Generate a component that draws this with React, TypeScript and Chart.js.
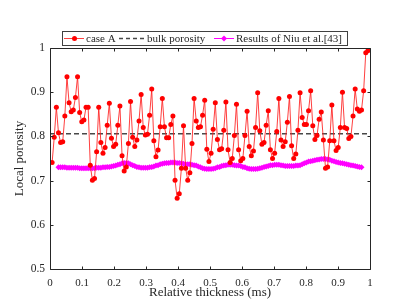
import React, { useEffect, useRef } from "react";
import { Chart, registerables } from "chart.js";

Chart.register(...registerables);

// thickness step between layers (relative thickness)
const LAYER_STEP = 1 / 151;

// case A local porosity, layers 1..150
const caseA = [
  0.741, 0.798, 0.866, 0.808, 0.786, 0.788, 0.846, 0.935, 0.876, 0.856,
  0.860, 0.888, 0.935, 0.854, 0.833, 0.837, 0.866, 0.866, 0.735, 0.701,
  0.705, 0.765, 0.866, 0.786, 0.762, 0.775, 0.825, 0.875, 0.796, 0.777,
  0.782, 0.825, 0.869, 0.756, 0.722, 0.731, 0.784, 0.879, 0.798, 0.777,
  0.792, 0.835, 0.895, 0.820, 0.803, 0.805, 0.848, 0.907, 0.790, 0.754,
  0.769, 0.822, 0.886, 0.822, 0.797, 0.797, 0.827, 0.846, 0.701, 0.660,
  0.670, 0.728, 0.824, 0.728, 0.701, 0.718, 0.784, 0.886, 0.835, 0.820,
  0.822, 0.848, 0.882, 0.771, 0.743, 0.762, 0.816, 0.876, 0.793, 0.770,
  0.772, 0.814, 0.878, 0.770, 0.741, 0.750, 0.802, 0.873, 0.770, 0.745,
  0.750, 0.802, 0.857, 0.777, 0.756, 0.767, 0.820, 0.899, 0.813, 0.782,
  0.786, 0.825, 0.858, 0.770, 0.750, 0.762, 0.811, 0.886, 0.792, 0.777,
  0.788, 0.832, 0.890, 0.779, 0.750, 0.760, 0.814, 0.899, 0.843, 0.827,
  0.827, 0.858, 0.903, 0.824, 0.793, 0.802, 0.839, 0.855, 0.792, 0.728,
  0.731, 0.790, 0.871, 0.790, 0.768, 0.775, 0.820, 0.900, 0.820, 0.818,
  0.795, 0.800, 0.846, 0.907, 0.862, 0.857, 0.860, 0.903, 0.989, 0.994,
];
const caseAFirstLayer = 1;

// Results of Niu et al. [43], layers 4..147
const niu = [
  0.730, 0.730, 0.730, 0.730, 0.729, 0.729, 0.729, 0.729, 0.729, 0.729,
  0.728, 0.728, 0.728, 0.728, 0.728, 0.728, 0.728, 0.728, 0.729, 0.729,
  0.729, 0.730, 0.730, 0.731, 0.731, 0.732, 0.733, 0.734, 0.736, 0.737,
  0.739, 0.740, 0.740, 0.739, 0.737, 0.735, 0.733, 0.731, 0.730, 0.729,
  0.729, 0.729, 0.729, 0.730, 0.731, 0.732, 0.734, 0.735, 0.737, 0.738,
  0.739, 0.740, 0.740, 0.741, 0.741, 0.741, 0.740, 0.740, 0.739, 0.738,
  0.737, 0.737, 0.737, 0.736, 0.735, 0.734, 0.732, 0.730, 0.728, 0.727,
  0.726, 0.726, 0.726, 0.727, 0.728, 0.730, 0.731, 0.733, 0.734, 0.735,
  0.736, 0.736, 0.736, 0.735, 0.734, 0.734, 0.733, 0.731, 0.730, 0.728,
  0.727, 0.726, 0.726, 0.726, 0.727, 0.728, 0.729, 0.731, 0.732, 0.733,
  0.735, 0.735, 0.736, 0.736, 0.736, 0.735, 0.734, 0.733, 0.733, 0.733,
  0.733, 0.733, 0.734, 0.734, 0.735, 0.737, 0.739, 0.741, 0.743, 0.744,
  0.745, 0.746, 0.747, 0.748, 0.749, 0.749, 0.749, 0.748, 0.747, 0.745,
  0.744, 0.742, 0.741, 0.740, 0.739, 0.738, 0.737, 0.736, 0.735, 0.734,
  0.733, 0.732, 0.731, 0.730,
];
const niuFirstLayer = 4;

const bulkPorosity = 0.806;
const bulkRange = [0, 1];

const xTicks = [0, 0.1, 0.2, 0.3, 0.4, 0.5, 0.6, 0.7, 0.8, 0.9, 1];
const yTicks = [0.5, 0.6, 0.7, 0.8, 0.9, 1];
const xTickLabels = ["0", "0.1", "0.2", "0.3", "0.4", "0.5", "0.6", "0.7", "0.8", "0.9", "1"];
const yTickLabels = ["0.5", "0.6", "0.7", "0.8", "0.9", "1"];

const seriesNames = ["case A", "bulk porosity", "Results of Niu et al.[43]"];
const xTitle = "Relative thickness (ms)";
const yTitle = "Local porosity";

const FONT = "'Liberation Serif', 'Times New Roman', serif";
const TEXT = "#262626";
const RED = "#ff0000";
const RED_LINE = "rgba(255,30,30,0.85)";
const MAGENTA = "#ff00ff";
const DASH = "#484848";

const framePlugin = {
  id: "frameAndLegend",
  afterDraw(chart: any) {
    const { ctx, chartArea, scales } = chart;
    const { left, right, top, bottom } = chartArea;
    const L = Math.round(left) + 0.5;
    const R = Math.round(right) + 0.5;
    const T = Math.round(top) + 0.5;
    const B = Math.round(bottom) + 0.5;
    ctx.save();
    ctx.strokeStyle = TEXT;
    ctx.lineWidth = 1;
    ctx.setLineDash([]);
    ctx.beginPath();
    ctx.moveTo(L, T); ctx.lineTo(R, T); ctx.lineTo(R, B); ctx.lineTo(L, B); ctx.closePath();
    ctx.stroke();
    // inward ticks
    ctx.beginPath();
    xTicks.forEach((v) => {
      const px = Math.round(scales.x.getPixelForValue(v)) + 0.5;
      ctx.moveTo(px, B); ctx.lineTo(px, B - 3);
      ctx.moveTo(px, T); ctx.lineTo(px, T + 3);
    });
    yTicks.forEach((v) => {
      const py = Math.round(scales.y.getPixelForValue(v)) + 0.5;
      ctx.moveTo(L, py); ctx.lineTo(L + 3, py);
      ctx.moveTo(R, py); ctx.lineTo(R - 3, py);
    });
    ctx.stroke();

    // legend box
    const bx = 62.5, by = 31.5, bw = 285, bh = 14;
    const cy = by + bh / 2;
    ctx.fillStyle = "#ffffff";
    ctx.fillRect(bx, by, bw, bh);
    ctx.strokeStyle = "#404040";
    ctx.strokeRect(bx, by, bw, bh);
    ctx.font = `11px ${FONT}`;
    ctx.textBaseline = "middle";
    ctx.textAlign = "left";
    // case A
    ctx.strokeStyle = RED_LINE;
    ctx.beginPath(); ctx.moveTo(64, cy); ctx.lineTo(84, cy); ctx.stroke();
    ctx.fillStyle = RED;
    ctx.beginPath(); ctx.arc(74.5, cy, 2.5, 0, Math.PI * 2); ctx.fill();
    ctx.fillStyle = TEXT;
    ctx.fillText(seriesNames[0], 86, cy + 0.5);
    // bulk porosity
    ctx.strokeStyle = DASH;
    ctx.lineWidth = 1.3;
    ctx.setLineDash([4, 3]);
    ctx.beginPath(); ctx.moveTo(119, cy); ctx.lineTo(144, cy); ctx.stroke();
    ctx.setLineDash([]);
    ctx.lineWidth = 1;
    ctx.fillStyle = TEXT;
    ctx.fillText(seriesNames[1], 147, cy + 0.5);
    // Niu
    ctx.strokeStyle = MAGENTA;
    ctx.beginPath(); ctx.moveTo(214, cy); ctx.lineTo(234, cy); ctx.stroke();
    ctx.fillStyle = MAGENTA;
    ctx.beginPath();
    ctx.moveTo(224, cy - 3); ctx.lineTo(227, cy); ctx.lineTo(224, cy + 3); ctx.lineTo(221, cy); ctx.closePath();
    ctx.fill();
    ctx.fillStyle = TEXT;
    ctx.fillText(seriesNames[2], 236, cy + 0.5);
    ctx.restore();
  },
};

export default function App() {
  const canvasRef = useRef<HTMLCanvasElement | null>(null);

  useEffect(() => {
    if (!canvasRef.current) return;
    const caseAData = caseA.map((v, i) => ({ x: (caseAFirstLayer + i) * LAYER_STEP, y: v }));
    const niuData = niu.map((v, i) => ({ x: (niuFirstLayer + i) * LAYER_STEP, y: v }));
    const bulkData = bulkRange.map((x) => ({ x, y: bulkPorosity }));

    const chart = new Chart(canvasRef.current, {
      type: "line",
      data: {
        datasets: [
          {
            label: seriesNames[0],
            data: caseAData,
            borderColor: RED_LINE,
            borderWidth: 1,
            pointRadius: 2.5,
            pointBackgroundColor: RED,
            pointBorderColor: RED,
            pointBorderWidth: 0,
            tension: 0,
          },
          {
            label: seriesNames[1],
            data: bulkData,
            borderColor: DASH,
            borderWidth: 1.5,
            borderDash: [5, 3],
            pointRadius: 0,
          },
          {
            label: seriesNames[2],
            data: niuData,
            borderColor: MAGENTA,
            borderWidth: 1,
            pointStyle: "rectRot",
            pointRadius: 3,
            pointBackgroundColor: MAGENTA,
            pointBorderColor: MAGENTA,
            pointBorderWidth: 0,
          },
        ],
      },
      options: {
        animation: false,
        responsive: false,
        maintainAspectRatio: false,
        events: [],
        layout: { padding: { top: 48, right: 37, left: 0, bottom: 0 } },
        plugins: { legend: { display: false }, tooltip: { enabled: false } },
        scales: {
          x: {
            type: "linear",
            min: 0,
            max: 1,
            afterFit: (s: any) => { s.height = 38; },
            afterBuildTicks: (s: any) => { s.ticks = xTicks.map((v) => ({ value: v })); },
            ticks: {
              padding: 8,
              autoSkip: false,
              maxRotation: 0,
              color: TEXT,
              font: { family: FONT, size: 11 },
              callback: (v: any) => xTickLabels[xTicks.indexOf(Number(v))] ?? String(v),
            },
            grid: { display: false, drawTicks: false },
            border: { display: false },
            title: {
              display: true,
              text: xTitle,
              color: TEXT,
              font: { family: FONT, size: 13 },
              padding: { top: 7, bottom: 7 },
            },
          },
          y: {
            type: "linear",
            min: 0.5,
            max: 1,
            afterFit: (s: any) => { s.width = 50; },
            afterBuildTicks: (s: any) => { s.ticks = yTicks.map((v) => ({ value: v })); },
            ticks: {
              padding: 5,
              color: TEXT,
              font: { family: FONT, size: 11.5 },
              callback: (v: any) => yTickLabels[yTicks.indexOf(Number(v))] ?? String(v),
            },
            grid: { display: false, drawTicks: false },
            border: { display: false },
            title: {
              display: true,
              text: yTitle,
              color: TEXT,
              font: { family: FONT, size: 13 },
              padding: { top: 12, bottom: 12 },
            },
          },
        },
      },
      plugins: [framePlugin],
    } as any);

    return () => chart.destroy();
  }, []);

  return (
    <div style={{ position: "fixed", left: 0, top: 0, width: 407, height: 307, background: "#fff" }}>
      <canvas ref={canvasRef} width={407} height={307} style={{ width: 407, height: 307, display: "block" }} />
    </div>
  );
}
